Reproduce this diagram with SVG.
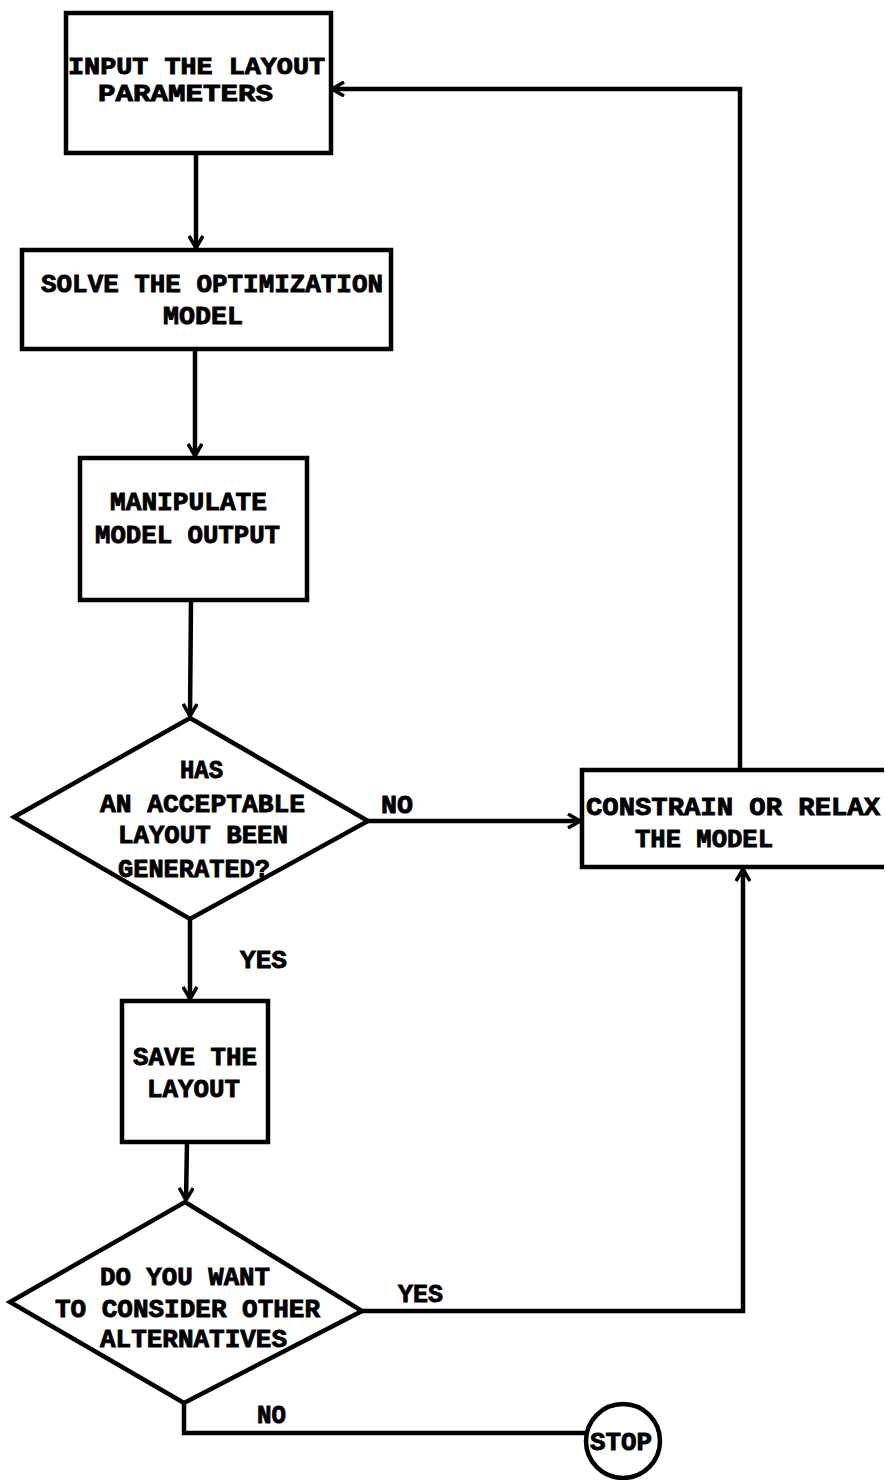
<svg xmlns="http://www.w3.org/2000/svg" width="886" height="1480" viewBox="0 0 886 1480">
<defs>
<style>
.n{fill:none;stroke:#000;stroke-width:4.5;stroke-linejoin:miter}
.c{fill:none;stroke:#000;stroke-width:4.5}
text{font-family:"Liberation Mono","DejaVu Sans Mono",monospace;font-weight:bold;font-size:26px;fill:#000;stroke:#000;stroke-width:0.9}
.t1{font-size:24px}
</style>
<marker id="ah" viewBox="0 0 14 16" refX="13" refY="8" markerWidth="14" markerHeight="16" markerUnits="userSpaceOnUse" orient="auto">
<path d="M1,1 L13,8 L1,15" fill="none" stroke="#000" stroke-width="3.5"/>
</marker>
</defs>
<rect width="886" height="1480" fill="#fff"/>
<g id="connectors">
<path class="c" d="M196,153 L196,248" marker-end="url(#ah)"/>
<path class="c" d="M195,349 L195,456" marker-end="url(#ah)"/>
<path class="c" d="M191,600 L190,716" marker-end="url(#ah)"/>
<path class="c" d="M368,821 L580,821" marker-end="url(#ah)"/>
<path class="c" d="M190,919 L190,999" marker-end="url(#ah)"/>
<path class="c" d="M187,1142 L186,1200" marker-end="url(#ah)"/>
<path class="c" d="M362,1311 L743,1311 L743,869" marker-end="url(#ah)"/>
<path class="c" d="M740,770 L740,89 L332,89" marker-end="url(#ah)"/>
<path class="c" d="M184,1403 L184,1433 L586,1433"/>
</g>
<g id="n1">
<rect class="n" x="66" y="13" width="265" height="140"/>
<text class="t1" x="68" y="74" textLength="257" lengthAdjust="spacingAndGlyphs">INPUT THE LAYOUT</text>
<text class="t1" x="98" y="101" textLength="175" lengthAdjust="spacingAndGlyphs">PARAMETERS</text>
</g>
<g id="n2">
<rect class="n" x="22" y="250" width="369" height="99"/>
<text x="41" y="292" textLength="342" lengthAdjust="spacingAndGlyphs">SOLVE THE OPTIMIZATION</text>
<text x="163" y="324" textLength="80" lengthAdjust="spacingAndGlyphs">MODEL</text>
</g>
<g id="n3">
<rect class="n" x="80" y="458" width="227" height="142"/>
<text x="110" y="510" textLength="157" lengthAdjust="spacingAndGlyphs">MANIPULATE</text>
<text x="95" y="543" textLength="185" lengthAdjust="spacingAndGlyphs">MODEL OUTPUT</text>
</g>
<g id="d1">
<path class="n" d="M190,718 L368,821 L190,919 L14,817 Z"/>
<text x="180" y="778" textLength="43" lengthAdjust="spacingAndGlyphs">HAS</text>
<text x="100" y="812" textLength="205" lengthAdjust="spacingAndGlyphs">AN ACCEPTABLE</text>
<text x="118" y="843" textLength="170" lengthAdjust="spacingAndGlyphs">LAYOUT BEEN</text>
<text x="118" y="877" textLength="152" lengthAdjust="spacingAndGlyphs">GENERATED?</text>
</g>
<g id="lbl-no1"><text x="381" y="813" textLength="32" lengthAdjust="spacingAndGlyphs">NO</text></g>
<g id="lbl-yes1"><text x="240" y="968" textLength="47" lengthAdjust="spacingAndGlyphs">YES</text></g>
<g id="n4">
<path class="n" d="M884,770 L582,770 L582,867 L884,867"/>
<text x="586" y="815" textLength="294" lengthAdjust="spacingAndGlyphs">CONSTRAIN OR RELAX</text>
<text x="635" y="847" textLength="138" lengthAdjust="spacingAndGlyphs">THE MODEL</text>
</g>
<g id="n5">
<rect class="n" x="122" y="1001" width="146" height="141"/>
<text x="133" y="1065" textLength="124" lengthAdjust="spacingAndGlyphs">SAVE THE</text>
<text x="147" y="1097" textLength="93" lengthAdjust="spacingAndGlyphs">LAYOUT</text>
</g>
<g id="d2">
<path class="n" d="M185,1202 L362,1311 L184,1403 L10,1302 Z"/>
<text x="100" y="1285" textLength="170" lengthAdjust="spacingAndGlyphs">DO YOU WANT</text>
<text x="55" y="1317" textLength="265" lengthAdjust="spacingAndGlyphs">TO CONSIDER OTHER</text>
<text x="100" y="1347" textLength="187" lengthAdjust="spacingAndGlyphs">ALTERNATIVES</text>
</g>
<g id="lbl-yes2"><text x="398" y="1302" textLength="45" lengthAdjust="spacingAndGlyphs">YES</text></g>
<g id="lbl-no2"><text x="257" y="1423" textLength="29" lengthAdjust="spacingAndGlyphs">NO</text></g>
<g id="stop">
<circle class="n" cx="623" cy="1441" r="37"/>
<text x="590" y="1450" textLength="62" lengthAdjust="spacingAndGlyphs">STOP</text>
</g>
</svg>
